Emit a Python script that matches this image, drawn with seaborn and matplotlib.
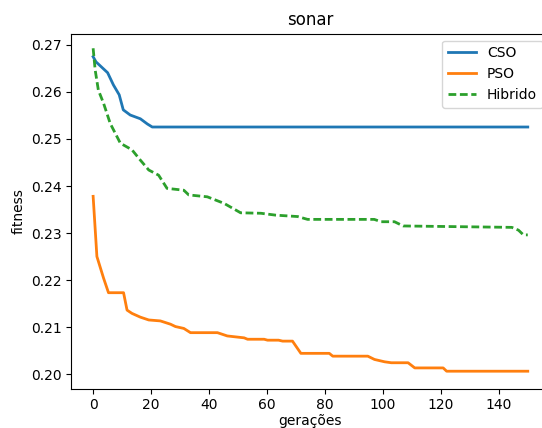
import matplotlib
matplotlib.use("Agg")
import matplotlib.pyplot as plt
import seaborn as sns
import pandas as pd

# CSO breakpoints (generation, fitness)
cso_gen = [0, 1, 5, 7, 9, 10.4, 12.8, 16.3, 18.7, 20.4, 150]
cso_fit = [0.2675, 0.2664, 0.2641, 0.2615, 0.2594, 0.2562, 0.2551, 0.2543, 0.2532, 0.25255, 0.25255]

# PSO breakpoints
pso_gen = [0, 1.3, 3.6, 5.3, 10.5, 11.7, 13.4, 16.3, 19.2, 23.2, 26.7, 28.4, 31.3, 33.6,
           42.9, 46.3, 52.1, 53.3, 59, 60.2, 64, 65.4, 68.8, 71.7, 81.5, 82.7, 94.8,
           97.1, 100.6, 102.9, 108.7, 111, 120.8, 122, 150]
pso_fit = [0.2378, 0.2250, 0.2204, 0.2173, 0.2173, 0.2136, 0.2129, 0.2121, 0.2115, 0.2113,
           0.2106, 0.2101, 0.2097, 0.2088, 0.2088, 0.2081, 0.2077, 0.2074, 0.2074, 0.2072,
           0.2072, 0.2070, 0.2070, 0.2044, 0.2044, 0.2038, 0.2038, 0.2031, 0.2026, 0.2024,
           0.2024, 0.2013, 0.2013, 0.2006, 0.2006]

# Hibrido breakpoints
hib_gen = [0, 0.7, 1.8, 3.6, 5.9, 9.4, 13.4, 16.3, 19.2, 22.6, 25.5, 31.3, 33, 39.4, 45.2,
           50.9, 57.9, 63, 70.6, 74, 97, 99.4, 104, 107, 144.5, 146.8, 148.5, 150]
hib_fit = [0.2693, 0.2647, 0.2604, 0.2576, 0.2533, 0.2491, 0.2477, 0.2455, 0.2434, 0.2423,
           0.2395, 0.2391, 0.2381, 0.2377, 0.2363, 0.2343, 0.2342, 0.2338, 0.2335, 0.2329,
           0.2329, 0.2324, 0.2324, 0.2315, 0.2312, 0.2306, 0.2296, 0.2296]

series_names = ["CSO", "PSO", "Hibrido"]

frames = []
for name, g, f in zip(series_names, [cso_gen, pso_gen, hib_gen], [cso_fit, pso_fit, hib_fit]):
    frames.append(pd.DataFrame({"gen": g, "fit": f, "alg": name}))
df = pd.concat(frames, ignore_index=True)

fig = plt.figure(figsize=(5.42, 4.28), dpi=100)
ax = fig.add_axes([71.4 / 542, 39.4 / 428, (549.5 - 71.4) / 542, (394.3 - 39.4) / 428])

palette = {"CSO": "#1f77b4", "PSO": "#ff7f0e", "Hibrido": "#2ca02c"}
dashes = {"CSO": "", "PSO": "", "Hibrido": (2.8, 1.3)}
sns.lineplot(data=df, x="gen", y="fit", hue="alg", style="alg", palette=palette,
             dashes=dashes, hue_order=series_names, style_order=series_names,
             linewidth=2, ax=ax, sort=False, estimator=None)

ax.set_xlim(-7.5, 157.5)
ax.set_ylim(0.1969, 0.2724)
ax.set_xticks([0, 20, 40, 60, 80, 100, 120, 140])
ax.set_yticks([0.20, 0.21, 0.22, 0.23, 0.24, 0.25, 0.26, 0.27])
ax.set_yticklabels(["0.20", "0.21", "0.22", "0.23", "0.24", "0.25", "0.26", "0.27"])
ax.set_title("sonar", fontsize=12)
ax.set_xlabel("gerações", labelpad=1)
ax.set_ylabel("fitness")
sns.move_legend(ax, "upper right", title=None, bbox_to_anchor=(1.0, 1.0),
                bbox_transform=ax.transAxes)

fig.savefig("out.png", dpi=100)
